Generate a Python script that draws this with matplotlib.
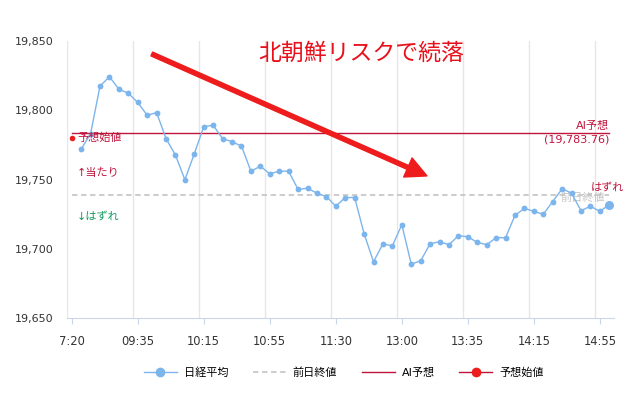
import matplotlib
matplotlib.use("Agg")
import matplotlib.pyplot as plt
from matplotlib.lines import Line2D
from matplotlib.ticker import FuncFormatter
import numpy as np

plt.rcParams["font.family"] = ["DejaVu Sans", "Noto Sans CJK JP"]

# ── data ────────────────────────────────────────────────────────────────────
tick_labels = ["7:20", "09:35", "10:15", "10:55", "11:30",
               "13:00", "13:35", "14:15", "14:55"]
n_slots = 58                      # category slots, slot 0 = 7:20 forecast open
nikkei = [19771.8, 19783.1, 19817.4, 19824.2, 19815.2, 19812.3, 19805.6,
          19796.4, 19798.3, 19779.5, 19767.6, 19749.8, 19768.6, 19788.2,
          19789.1, 19779.5, 19777.3, 19774.1, 19756.0, 19759.6, 19754.1,
          19756.0, 19756.0, 19742.8, 19743.7, 19740.1, 19737.7, 19730.7,
          19737.0, 19737.0, 19710.9, 19690.6, 19703.6, 19702.0, 19717.4,
          19688.9, 19691.3, 19703.6, 19705.1, 19702.9, 19709.4, 19708.7,
          19704.6, 19702.9, 19708.0, 19708.0, 19724.1, 19729.2, 19727.0,
          19724.9, 19734.1, 19743.3, 19740.1, 19727.5, 19730.7, 19727.0,
          19731.9]
prev_close = 19739.0
ai_forecast = 19783.76
forecast_open = 19780.0

BLUE = "#7cb5ec"
DARKRED = "#c0143c"
RED = "#ee1c1c"

fig = plt.figure(figsize=(6.4, 3.93), dpi=100)
ax = fig.add_axes([0.1047, 0.1908, 0.8547, 0.7049])

x = np.arange(1, 1 + len(nikkei))
last = len(nikkei)

for k in range(0, n_slots, 7):
    ax.axvline(k - 0.5, color="#e6e6e6", lw=1, zorder=0)

ax.plot([0, last], [prev_close, prev_close], color="#c8c8c8", lw=1.3,
        ls=(0, (3, 2)), zorder=1)
ax.plot([0, last], [ai_forecast, ai_forecast], color=DARKRED, lw=1, zorder=1)

ax.plot(x, nikkei, "-o", color=BLUE, lw=1, markersize=4.2,
        markeredgewidth=0, zorder=3)
ax.plot(x[-1], nikkei[-1], "o", color=BLUE, markersize=6.5,
        markeredgewidth=0, zorder=4)
ax.plot(0, forecast_open, "o", color=RED, markersize=4,
        markeredgewidth=0, zorder=4, clip_on=False)

# labels inside the plot
ax.text(0.55, forecast_open, "予想始値", color=DARKRED, fontsize=8,
        va="center", ha="left", zorder=5)
ax.text(last, ai_forecast + 1.5, "AI予想", color=DARKRED, fontsize=8,
        ha="right", va="bottom")
ax.text(last, ai_forecast - 1.5, "(19,783.76)", color=DARKRED, fontsize=8,
        ha="right", va="top")
ax.text(0.55, 19755, "↑当たり", color=DARKRED, fontsize=8, va="center")
ax.text(0.55, 19723.5, "↓はずれ", color="#139a5c", fontsize=8, va="center")
ax.text(last + 1.6, prev_close + 1.5, "はずれ", color=DARKRED, fontsize=8,
        ha="right", va="bottom", zorder=5)
ax.text(last - 0.5, prev_close - 2, "前日終値", color="#c4c4c4", fontsize=8,
        ha="right", va="center", zorder=2)

ax.annotate("", xy=(0.658, 0.513), xytext=(0.155, 0.953),
            xycoords="axes fraction", textcoords="axes fraction",
            arrowprops=dict(facecolor=RED, edgecolor=RED, width=3,
                            headwidth=15, headlength=15, shrink=0))

fig.text(361 / 640, 1 - 53 / 393, "北朝鮮リスクで続落", color="#e8101a",
         fontsize=16.5, ha="center", va="center",
         family=["Noto Sans CJK JP"])

ax.set_xlim(-0.5, n_slots - 0.5)
ax.set_ylim(19650, 19850)
ax.set_yticks(np.arange(19650, 19851, 50))
ax.yaxis.set_major_formatter(FuncFormatter(lambda v, p: f"{v:,.0f}"))
ax.set_xticks(np.arange(0, n_slots, 7))
ax.set_xticklabels(tick_labels)
ax.tick_params(axis="y", length=0, pad=10, labelsize=8, labelcolor="#333333")
ax.tick_params(axis="x", length=4, color="#ccd6eb", pad=8, labelsize=8.3,
               labelcolor="#333333")
for side in ["top", "right", "left"]:
    ax.spines[side].set_visible(False)
ax.spines["bottom"].set_color("#ccd6eb")

handles = [
    Line2D([], [], color=BLUE, lw=1, marker="o", markersize=7,
           markeredgewidth=0),
    Line2D([], [], color="#c8c8c8", lw=1.3, ls=(0, (3, 2))),
    Line2D([], [], color=DARKRED, lw=1),
    Line2D([], [], color=DARKRED, lw=1, marker="o", markersize=7,
           markerfacecolor=RED, markeredgewidth=0),
]
fig.legend(handles, ["日経平均", "前日終値", "AI予想", "予想始値"],
           loc="center", bbox_to_anchor=(0.537, 0.052), ncol=4,
           frameon=False, fontsize=8, handlelength=3, columnspacing=2.2,
           handletextpad=0.6)

fig.savefig("out.png", dpi=100)
